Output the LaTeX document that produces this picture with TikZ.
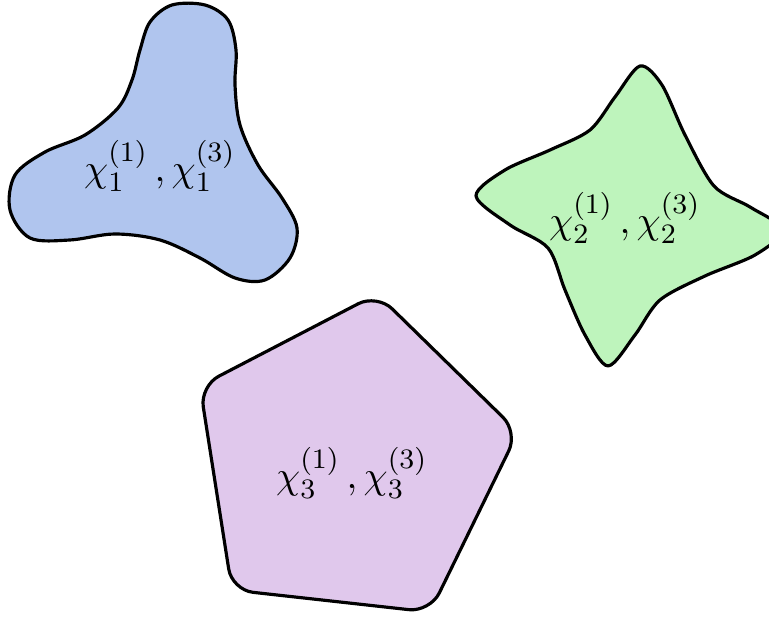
\documentclass[tikz,border=0pt]{standalone}
\usepackage{xcolor}
\usepackage{tikz}

\definecolor{blobblue}{RGB}{176,197,238}
\definecolor{blobgreen}{RGB}{190,244,188}
\definecolor{blobpurple}{RGB}{224,200,236}

\begin{document}
\begin{tikzpicture}[x=0.01cm, y=-0.01cm,
        blob/.style={draw=black, line width=0.9pt, line join=round},
        lbl/.style={font=\fontsize{11}{13}\selectfont}]
        \useasboundingbox (0,0) rectangle (769,619);
        \clip (0,0) rectangle (769,619);

        % three regions
        \draw[blob, fill=blobblue] plot[smooth cycle, tension=0.55] coordinates {
            (140,50) (150,22) (172,5) (205,5) (228,20) (236,50) (235,85)
            (240,125) (258,165) (282,198) (297,228) (290,258) (265,280)
            (235,278) (200,258) (160,240) (115,234) (70,240) (30,238)
            (10,210) (15,175) (45,152) (85,135) (118,108) (132,80)};
        \draw[blob, fill=blobgreen] plot[smooth cycle, tension=0.5] coordinates {
            (476,196) (505,170) (550,150) (590,130) (615,97) (640,66)
            (662,85) (685,135) (714,186) (750,207) (783,230) (755,255)
            (705,276) (660,300) (635,335) (608,366) (585,335) (565,290)
            (548,248) (510,225)};
        \draw[blob, fill=blobpurple, rounded corners=6pt]
            (377,294) -- (518,432) -- (430,612) -- (232,590) -- (200,386) -- cycle;

        \node[lbl] (chi1) at (160,166) {$\chi_1^{(1)}\,, \chi_1^{(3)}$};
        \node[lbl] (chi2) at (625,218) {$\chi_2^{(1)}\,, \chi_2^{(3)}$};
        \node[lbl] (chi3) at (352,473) {$\chi_3^{(1)}\,, \chi_3^{(3)}$};

    \end{tikzpicture}
\end{document}
